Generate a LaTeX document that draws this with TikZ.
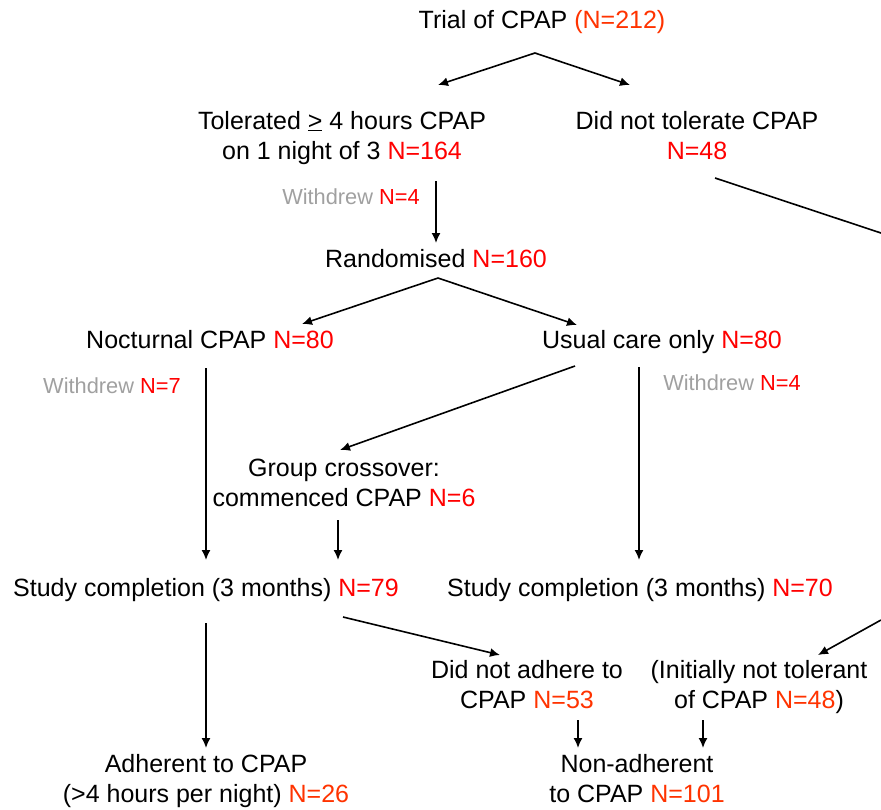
\documentclass[tikz,border=0pt]{standalone}
\usepackage{fontspec}
\setmainfont{Liberation Sans}
\usetikzlibrary{arrows.meta}
\definecolor{nred}{RGB}{255,0,0}
\definecolor{nora}{RGB}{255,51,0}
\definecolor{wgray}{RGB}{160,160,160}
\newcommand{\nr}[1]{\textcolor{nred}{#1}}
\newcommand{\no}[1]{\textcolor{nora}{#1}}
\newcommand{\withdrewN}[1]{\textcolor{wgray}{Withdrew} \nr{#1}}
\begin{document}
\begin{tikzpicture}[x=1pt,y=-1pt,
  % multi-line boxes are placed by the baseline of their last line
  box/.style={anchor=base,inner sep=0pt,align=center,
    font=\fontsize{25}{30}\selectfont},
  wlabel/.style={anchor=base,inner sep=0pt,
    font=\fontsize{21.8}{26}\selectfont},
  conn/.style={line width=1.6pt},
  arr/.style={conn,-{Latex[length=10pt,width=9pt]}}]
\useasboundingbox (0,0) rectangle (881,809);

% stages of the flow
\node[box] (trial) at (542,28) {Trial of CPAP \no{(N=212)}};
\node[box] (tol) at (342,159) {Tolerated \underline{>} 4 hours CPAP\\on 1 night of 3 \nr{N=164}};
\node[box] (nottol) at (697,159) {Did not tolerate CPAP\\\nr{N=48}};
\node[box] (rnd) at (436,267) {Randomised \nr{N=160}};
\node[box] (noct) at (210,348) {Nocturnal CPAP \nr{N=80}};
\node[box] (usual) at (662,348) {Usual care only \nr{N=80}};
\node[box] (cross) at (344,506) {Group crossover:\\commenced CPAP \nr{N=6}};
\node[box] (compA) at (206,596) {Study completion (3 months) \nr{N=79}};
\node[box] (compB) at (640,596) {Study completion (3 months) \nr{N=70}};
\node[box] (nonadh) at (527,708) {Did not adhere to\\CPAP \no{N=53}};
\node[box] (initnot) at (759,708) {(Initially not tolerant\\of CPAP \no{N=48})};
\node[box] (adh) at (206,802) {Adherent to CPAP\\(>4 hours per night) \no{N=26}};
\node[box] (nonall) at (637,802) {Non-adherent\\to CPAP \no{N=101}};

% withdrawals
\node[wlabel] (wA) at (351,204) {\withdrewN{N=4}};
\node[wlabel] (wB) at (112,393) {\withdrewN{N=7}};
\node[wlabel] (wC) at (732,390) {\withdrewN{N=4}};

% branch points and connector ends
\coordinate (trialSplit) at (535,53);
\coordinate (tolIn) at (438,85);
\coordinate (nottolIn) at (630,85);
\coordinate (tolOut) at (436,181);
\coordinate (rndIn) at (436,243);
\coordinate (rndSplit) at (438,278);
\coordinate (noctIn) at (302,324);
\coordinate (usualIn) at (577,325);
\coordinate (usualOutL) at (575,366);
\coordinate (crossIn) at (340,450);
\coordinate (noctOut) at (206,368);
\coordinate (compAIn) at (206,560);
\coordinate (usualOut) at (639,367);
\coordinate (compBIn) at (639,560);
\coordinate (crossOut) at (338,520);
\coordinate (crossEnd) at (338,560);
\coordinate (compAOut) at (206,623);
\coordinate (adhIn) at (206,748);
\coordinate (compAOutR) at (343,617);
\coordinate (nonadhIn) at (500,655);
\coordinate (nottolOut) at (715,178);
\coordinate (nottolEdge) at (881,233);
\coordinate (initEdge) at (881,620);
\coordinate (initIn) at (818,655);
\coordinate (nonadhOut) at (578,720);
\coordinate (nonallInL) at (578,748);
\coordinate (initOut) at (703,720);
\coordinate (nonallInR) at (703,748);

% connectors
\draw[arr] (trialSplit) -- (tolIn);
\draw[arr] (trialSplit) -- (nottolIn);
\draw[arr] (tolOut) -- (rndIn);
\draw[arr] (rndSplit) -- (noctIn);
\draw[arr] (rndSplit) -- (usualIn);
\draw[arr] (usualOutL) -- (crossIn);
\draw[arr] (noctOut) -- (compAIn);
\draw[arr] (usualOut) -- (compBIn);
\draw[arr] (crossOut) -- (crossEnd);
\draw[arr] (compAOut) -- (adhIn);
\draw[arr] (compAOutR) -- (nonadhIn);
\draw[conn] (nottolOut) -- (nottolEdge);
\draw[arr] (initEdge) -- (initIn);
\draw[arr] (nonadhOut) -- (nonallInL);
\draw[arr] (initOut) -- (nonallInR);
\end{tikzpicture}
\end{document}
